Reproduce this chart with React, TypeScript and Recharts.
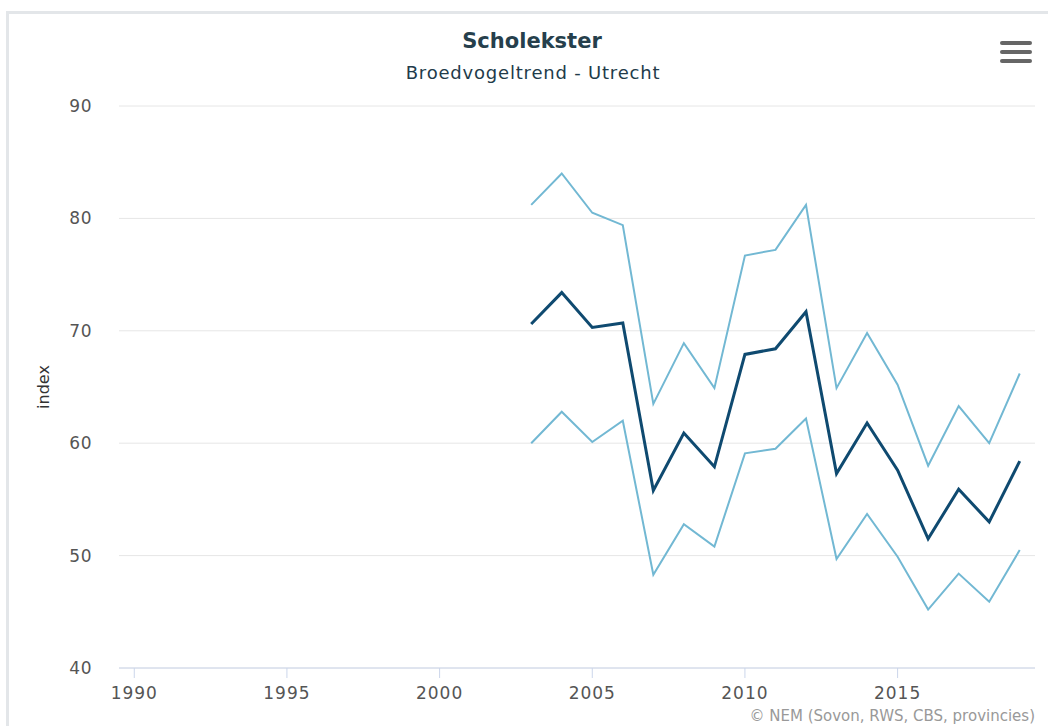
import { CartesianGrid, Line, LineChart, XAxis, YAxis } from "recharts";

const years = [2003, 2004, 2005, 2006, 2007, 2008, 2009, 2010, 2011, 2012, 2013, 2014, 2015, 2016, 2017, 2018, 2019];
const indexValues = [70.6, 73.4, 70.3, 70.7, 55.8, 60.9, 57.9, 67.9, 68.4, 71.7, 57.3, 61.8, 57.6, 51.5, 55.9, 53.0, 58.4];
const upperBound = [81.2, 84.0, 80.5, 79.4, 63.5, 68.9, 64.9, 76.7, 77.2, 81.2, 64.9, 69.8, 65.2, 58.0, 63.3, 60.0, 66.2];
const lowerBound = [60.0, 62.8, 60.1, 62.0, 48.3, 52.8, 50.8, 59.1, 59.5, 62.2, 49.7, 53.7, 49.9, 45.2, 48.4, 45.9, 50.5];

const xTicks = [1990, 1995, 2000, 2005, 2010, 2015];
const yTicks = [40, 50, 60, 70, 80, 90];

const DARK = "#0f4a70";
const LIGHT = "#72b8d3";
const FONT = "'DejaVu Sans', Verdana, sans-serif";

const data = years.map((year, i) => ({
  year,
  index: indexValues[i],
  upper: upperBound[i],
  lower: lowerBound[i],
}));

function IndexLabel({ viewBox }: { viewBox?: { x: number; y: number; width: number; height: number } }) {
  if (!viewBox) return null;
  const x = viewBox.x + 43;
  const y = viewBox.y + viewBox.height / 2;
  return (
    <text
      x={x}
      y={y}
      transform={`rotate(-90 ${x} ${y})`}
      textAnchor="middle"
      dominantBaseline="central"
      fill="#333"
      fontSize={16}
      fontFamily={FONT}
    >
      index
    </text>
  );
}

export default function App() {
  return (
    <div style={{ position: "absolute", left: 0, top: 0, width: 1048, height: 726, background: "#fff", overflow: "hidden", fontFamily: FONT }}>
      <div
        style={{
          position: "absolute",
          left: 6,
          top: 11,
          width: 1100,
          height: 800,
          borderLeft: "3px solid #e3e6e9",
          borderTop: "3px solid #e3e6e9",
        }}
      />
      <div style={{ position: "absolute", left: 0, width: 1064, top: 29, textAlign: "center", fontSize: 21, fontWeight: "bold", color: "#263f4c" }}>
        Scholekster
      </div>
      <div style={{ position: "absolute", left: 0, width: 1066, top: 62, textAlign: "center", fontSize: 18, letterSpacing: 0.8, color: "#223b4a" }}>
        Broedvogeltrend - Utrecht
      </div>
      {[41, 50, 59].map((t) => (
        <div key={t} style={{ position: "absolute", left: 1000, top: t, width: 32, height: 4, borderRadius: 2, background: "#666" }} />
      ))}
      <div style={{ position: "absolute", right: 13, top: 707, fontSize: 15, color: "#999" }}>
        © NEM (Sovon, RWS, CBS, provincies)
      </div>
      <div style={{ position: "absolute", left: 0, top: 0 }}>
        <LineChart width={1048} height={726} data={data} margin={{ top: 106, right: 13, bottom: 0, left: 0 }}>
          <CartesianGrid vertical={false} stroke="#e6e6e6" />
          <XAxis
            dataKey="year"
            type="number"
            domain={[1989.5, 2019.5]}
            ticks={xTicks}
            height={58}
            tick={{ fill: "#555", fontSize: 17, fontFamily: FONT, letterSpacing: 1 }}
            axisLine={{ stroke: "#ccd6eb" }}
            tickLine={{ stroke: "#ccd6eb" }}
            tickSize={10}
            tickMargin={9}
          />
          <YAxis
            domain={[40, 90]}
            ticks={yTicks}
            width={119}
            tick={{ fill: "#555", fontSize: 17, fontFamily: FONT, letterSpacing: 0.5 }}
            axisLine={false}
            tickLine={false}
            tickSize={0}
            tickMargin={27}
            label={<IndexLabel />}
          />
          <Line dataKey="upper" stroke={LIGHT} strokeWidth={2} dot={false} isAnimationActive={false} />
          <Line dataKey="lower" stroke={LIGHT} strokeWidth={2} dot={false} isAnimationActive={false} />
          <Line dataKey="index" stroke={DARK} strokeWidth={3} dot={false} isAnimationActive={false} />
        </LineChart>
      </div>
    </div>
  );
}
